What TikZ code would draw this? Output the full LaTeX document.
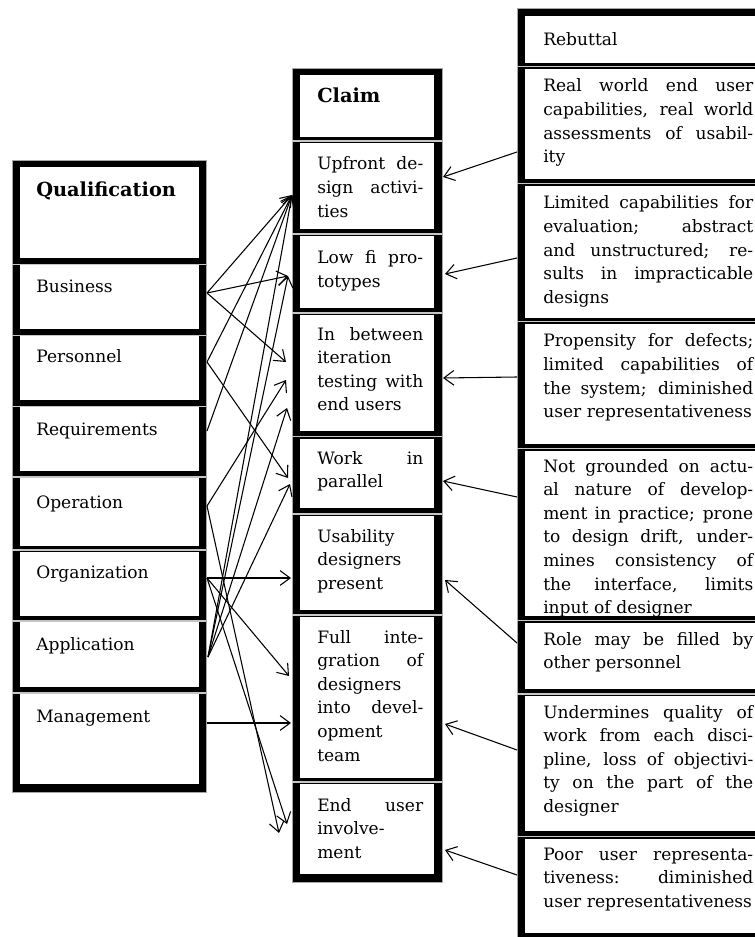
\documentclass[tikz,border=0pt]{standalone}
\usepackage{fontspec}
\setmainfont{DejaVu Serif}
\usetikzlibrary{arrows.meta}
\setlength{\parindent}{0pt}
\setlength{\parskip}{0pt}
% justified lines of the claim and rebuttal cells
\newcommand{\jm}[1]{\leavevmode\hbox to 79.5pt{\spaceskip=.32em plus 1fil\relax #1}\\}
\newcommand{\jr}[1]{\leavevmode\hbox to 157.5pt{\spaceskip=.32em plus 1fil\relax #1}\\}
\tikzset{
	colband/.style = {fill=black, draw=gray!70, line width=0.5pt},
	cellbox/.style = {draw=black, double=white, double distance=0.8pt, line width=0.7pt, fill=white},
	sepline/.style = {draw=gray!45, line width=0.9pt},
	txt/.style = {anchor=base west, inner sep=0pt, font=\fontsize{12.8}{17.7}\selectfont},
	head/.style = {anchor=base west, inner sep=0pt, font=\fontsize{14.5}{17}\selectfont\bfseries},
	arr/.style = {-{Straight Barb[length=7.5pt,width=11pt]}, line width=0.8pt}
}
\begin{document}
\begin{tikzpicture}[x=0.75pt, y=-0.75pt]
	\clip (0,0) rectangle (755,937);
%
	% qualification column
	\filldraw[colband] (12,160) rectangle (206,792);
	\foreach \t/\b in {168/257, 266/328, 337/399, 408/470, 479/545, 553/615, 623/686, 695/783}
		\draw[cellbox] (21,\t) rectangle (198,\b);
	\foreach \s in {264.5, 335.5, 406.5, 477, 550, 621, 693}
		\draw[sepline] (12,\s) -- (206,\s);
	\node[head] (qual) at (36,197) {Qualification};
	\node[txt] (bus) at (36,293) {Business};
	\node[txt] (per) at (36,363) {Personnel};
	\node[txt] (req) at (36,435) {Requirements};
	\node[txt] (ope) at (36,508) {Operation};
	\node[txt] (org) at (36,578) {Organization};
	\node[txt] (app) at (36,650) {Application};
	\node[txt] (man) at (36,722) {Management};
%
	% claim column
	\filldraw[colband] (292,68) rectangle (442,882);
	\foreach \t/\b in {76/136, 144/228, 237/307, 316/430, 440/507, 517/609, 618/777, 785/873}
		\draw[cellbox] (301,\t) rectangle (433,\b);
	\foreach \s in {141, 234, 313, 436.5, 514, 615, 782}
		\draw[sepline] (292,\s) -- (442,\s);
	\node[head] (claim) at (317,103) {Claim};
	\node[txt, text width=79.5pt] (upf) at (317,170) {\jm{Upfront de-}\jm{sign activi-}ties};
	\node[txt, text width=79.5pt] (lowfi) at (317,264) {\jm{Low fi pro-}totypes};
	\node[txt, text width=79.5pt] (betw) at (317,340) {\jm{In between}iteration\\\jm{testing with}end users};
	\node[txt, text width=79.5pt] (work) at (317,464) {\jm{Work in}parallel};
	\node[txt, text width=79.5pt] (usab) at (317,542) {Usability\\designers\\present};
	\node[txt, text width=79.5pt] (full) at (317,643) {\jm{Full inte-}\jm{gration of}designers\\\jm{into devel-}opment\\team};
	\node[txt, text width=79.5pt] (endu) at (317,811) {\jm{End user}involve-\\ment};
%
	% rebuttal column
	\filldraw[colband] (517,8) rectangle (780,960);
	\foreach \t/\b in {17/62, 70/178, 187/317, 325/443, 452/615, 624/688, 697/830, 840/932}
		\draw[cellbox] (526,\t) rectangle (767,\b);
	\foreach \s in {66.5, 183.5, 321.5, 448.5, 620.5, 694, 836.5}
		\draw[sepline] (517,\s) -- (780,\s);
	\node[txt] (reb) at (543,46) {Rebuttal};
	\node[txt, text width=157.5pt] (real) at (543,92) {\jr{Real world end user}\jr{capabilities, real world}\jr{assessments of usabil-}ity};
	\node[txt, text width=157.5pt] (limit) at (543,209) {\jr{Limited capabilities for}\jr{evaluation; abstract}\jr{and unstructured; re-}\jr{sults in impracticable}designs};
	\node[txt, text width=157.5pt] (prop) at (543,347) {\jr{Propensity for defects;}\jr{limited capabilities of}\jr{the system; diminished}user representativeness};
	\node[txt, text width=157.5pt] (notgr) at (543,472) {\jr{Not grounded on actu-}\jr{al nature of develop-}\jr{ment in practice; prone}\jr{to design drift, under-}\jr{mines consistency of}\jr{the interface, limits}input of designer};
	\node[txt, text width=157.5pt] (role) at (543,645) {\jr{Role may be filled by}other personnel};
	\node[txt, text width=157.5pt] (undm) at (543,718) {\jr{Undermines quality of}\jr{work from each disci-}\jr{pline, loss of objectivi-}\jr{ty on the part of the}designer};
	\node[txt, text width=157.5pt] (poor) at (543,860) {\jr{Poor user representa-}\jr{tiveness:\hfill diminished}user representativeness};
%
	% ends of the connectors
	\coordinate (qbus) at (207,293);
	\coordinate (qper) at (207,362);
	\coordinate (qreq) at (207,431);
	\coordinate (qope) at (207,506);
	\coordinate (qorg) at (207,578);
	\coordinate (qapp) at (208,657);
	\coordinate (qman) at (207,723);
	\coordinate (cupf) at (292,195);
	\coordinate (clow) at (288,276);
	\coordinate (cbt1) at (286,362);
	\coordinate (cbt2) at (286,380);
	\coordinate (cbt3) at (287,408);
	\coordinate (cwk1) at (288,478);
	\coordinate (cwk2) at (290,484);
	\coordinate (cusa) at (291,578);
	\coordinate (cfu1) at (289,676);
	\coordinate (cfu2) at (291,723);
	\coordinate (cen1) at (287,824);
	\coordinate (cen2) at (279,833);
	\coordinate (rrea) at (517,152);
	\coordinate (rlim) at (517,258);
	\coordinate (rpro) at (517,377);
	\coordinate (rnot) at (517,497);
	\coordinate (rrol) at (517,643);
	\coordinate (rund) at (517,750);
	\coordinate (rpoo) at (517,875);
%
	\draw[arr] (qbus) -- (cupf);
	\draw[arr] (qbus) -- (clow);
	\draw[arr] (qbus) -- (cbt1);
	\draw[arr] (qper) -- (cupf);
	\draw[arr] (qper) -- (cwk1);
	\draw[arr] (qreq) -- (cupf);
	\draw[arr] (qope) -- (cbt2);
	\draw[arr] (qope) -- (cen2);
	\draw[arr] (qorg) -- (cusa);
	\draw[arr] (qorg) -- (cfu1);
	\draw[arr] (qorg) -- (cen1);
	\draw[arr] (qapp) -- (cupf);
	\draw[arr] (qapp) -- (clow);
	\draw[arr] (qapp) -- (cbt3);
	\draw[arr] (qapp) -- (cwk2);
	\draw[arr] (qman) -- (cfu2);
%
	\draw[arr] (rrea) -- (443,177);
	\draw[arr] (rlim) -- (445,274);
	\draw[arr] (rpro) -- (443,378);
	\draw[arr] (rnot) -- (443,481);
	\draw[arr] (rrol) -- (445,580);
	\draw[arr] (rund) -- (445,724);
	\draw[arr] (rpoo) -- (445,850);
\end{tikzpicture}
\end{document}
